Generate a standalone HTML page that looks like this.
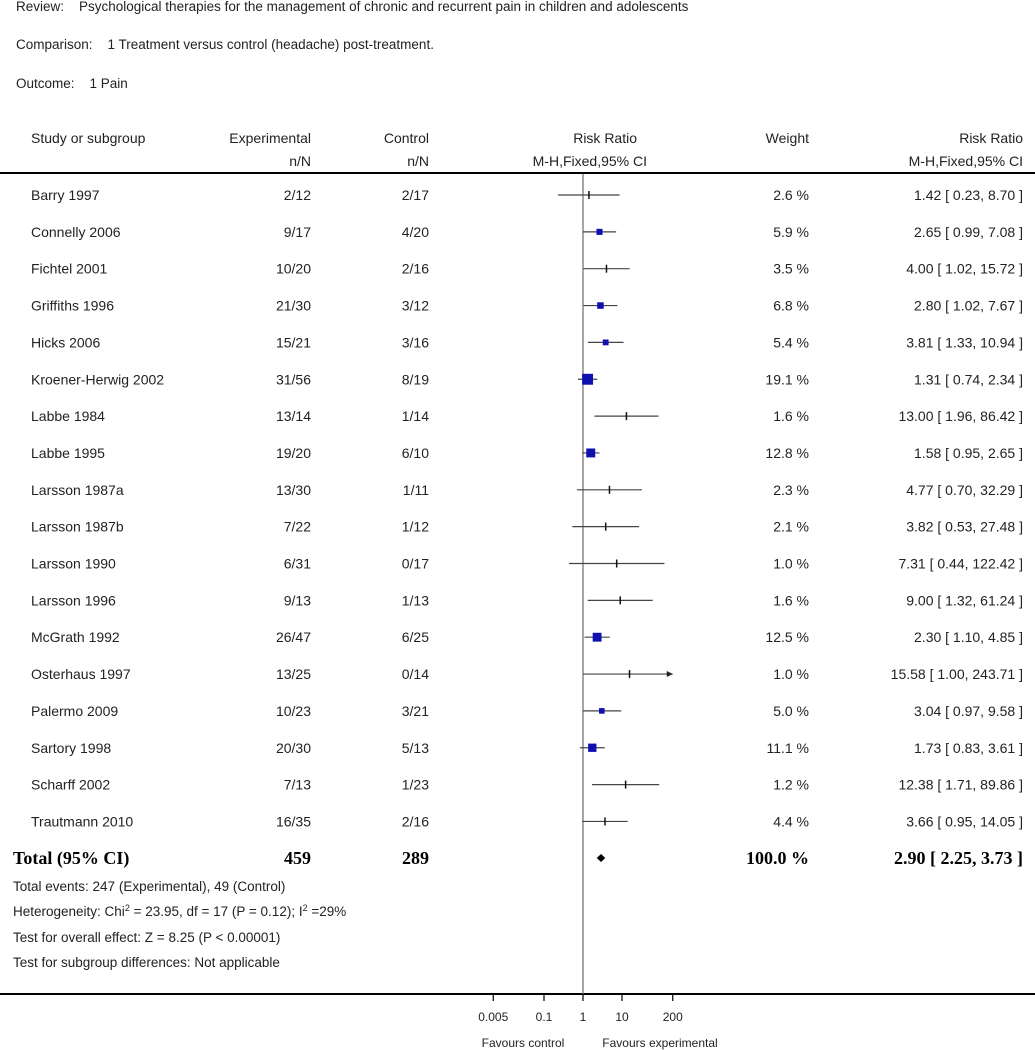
<!DOCTYPE html>
<html><head><meta charset="utf-8"><style>
html,body{margin:0;padding:0;background:#fff;}
svg{display:block;font-family:"Liberation Sans",sans-serif;}
text{white-space:pre;}
</style></head><body>
<svg id="c" width="1035" height="1050" xmlns="http://www.w3.org/2000/svg">
<g font-size="13.5" fill="#222">
<text x="16" y="11">Review:    Psychological therapies for the management of chronic and recurrent pain in children and adolescents</text>
<text x="16" y="49">Comparison:    1 Treatment versus control (headache) post-treatment.</text>
<text x="16" y="88">Outcome:    1 Pain</text>
</g>
<g font-size="14" fill="#222">
<text x="31" y="143">Study or subgroup</text>
<text x="311" y="143" text-anchor="end">Experimental</text>
<text x="311" y="166" text-anchor="end">n/N</text>
<text x="429" y="143" text-anchor="end">Control</text>
<text x="429" y="166" text-anchor="end">n/N</text>
<text x="637" y="143" text-anchor="end">Risk Ratio</text>
<text x="647" y="166" text-anchor="end">M-H,Fixed,95% CI</text>
<text x="809" y="143" text-anchor="end">Weight</text>
<text x="1023" y="143" text-anchor="end">Risk Ratio</text>
<text x="1023" y="166" text-anchor="end">M-H,Fixed,95% CI</text>
</g>
<line x1="0" y1="173" x2="1035" y2="173" stroke="#000" stroke-width="2"/>
<line x1="0" y1="994" x2="1035" y2="994" stroke="#000" stroke-width="2"/>
<g id="rows"></g>
<g id="marks"></g>
<g id="axis"></g>
<g font-size="13.5" fill="#222">
<text x="13" y="891">Total events: 247 (Experimental), 49 (Control)</text>
<text x="13" y="916">Heterogeneity: Chi<tspan dy="-5" font-size="9">2</tspan><tspan dy="5"> = 23.95, df = 17 (P = 0.12); I</tspan><tspan dy="-5" font-size="9">2</tspan><tspan dy="5"> =29%</tspan></text>
<text x="13" y="942">Test for overall effect: Z = 8.25 (P &lt; 0.00001)</text>
<text x="13" y="967">Test for subgroup differences: Not applicable</text>
</g>
<g font-family="Liberation Serif" font-weight="bold" font-size="18" fill="#000">
<text x="13" y="864">Total (95% CI)</text>
<text x="311" y="864" text-anchor="end">459</text>
<text x="429" y="864" text-anchor="end">289</text>
<text x="809" y="864" text-anchor="end">100.0 %</text>
<text x="1023" y="864" text-anchor="end">2.90 [ 2.25, 3.73 ]</text>
</g>
<g font-size="12" fill="#222">
<text x="523" y="1047" text-anchor="middle">Favours control</text>
<text x="660" y="1047" text-anchor="middle">Favours experimental</text>
</g>
</svg>
<script>
const studies=["Barry 1997","Connelly 2006","Fichtel 2001","Griffiths 1996","Hicks 2006","Kroener-Herwig 2002","Labbe 1984","Labbe 1995","Larsson 1987a","Larsson 1987b","Larsson 1990","Larsson 1996","McGrath 1992","Osterhaus 1997","Palermo 2009","Sartory 1998","Scharff 2002","Trautmann 2010"];
const expN=["2/12","9/17","10/20","21/30","15/21","31/56","13/14","19/20","13/30","7/22","6/31","9/13","26/47","13/25","10/23","20/30","7/13","16/35"];
const ctrlN=["2/17","4/20","2/16","3/12","3/16","8/19","1/14","6/10","1/11","1/12","0/17","1/13","6/25","0/14","3/21","5/13","1/23","2/16"];
const weights=[2.6,5.9,3.5,6.8,5.4,19.1,1.6,12.8,2.3,2.1,1.0,1.6,12.5,1.0,5.0,11.1,1.2,4.4];
const rr=[1.42,2.65,4.00,2.80,3.81,1.31,13.00,1.58,4.77,3.82,7.31,9.00,2.30,15.58,3.04,1.73,12.38,3.66];
const lo=[0.23,0.99,1.02,1.02,1.33,0.74,1.96,0.95,0.70,0.53,0.44,1.32,1.10,1.00,0.97,0.83,1.71,0.95];
const hi=[8.70,7.08,15.72,7.67,10.94,2.34,86.42,2.65,32.29,27.48,122.42,61.24,4.85,243.71,9.58,3.61,89.86,14.05];
const totalRR=2.90, totalLo=2.25, totalHi=3.73;
const ticks=[0.005,0.1,1,10,200];
const tickLabels=["0.005","0.1","1","10","200"];

const NS="http://www.w3.org/2000/svg";
const X0=583, PX=39, AXMIN=0.005, AXMAX=200;
const xs=v=>X0+Math.log10(v)*PX;
const rowY=i=>195+i*36.85;
function el(t,a,p,txt){const e=document.createElementNS(NS,t);for(const k in a)e.setAttribute(k,a[k]);if(txt!==undefined)e.textContent=txt;p.appendChild(e);return e;}
const fmt=v=>v.toFixed(2);
const rows=document.getElementById('rows'),marks=document.getElementById('marks'),axis=document.getElementById('axis');
el('line',{x1:X0,y1:174,x2:X0,y2:994,stroke:'#777','stroke-width':1.3},marks);
studies.forEach((s,i)=>{
  const y=rowY(i);
  const g=el('g',{'font-size':14,fill:'#222'},rows);
  
  
  let t=el('text',{x:31,y:y+5},g,s);
  
  t=el('text',{x:311,y:y+5,'text-anchor':'end'},g,expN[i]);
  
  t=el('text',{x:429,y:y+5,'text-anchor':'end'},g,ctrlN[i]);
  
  t=el('text',{x:809,y:y+5,'text-anchor':'end'},g,weights[i].toFixed(1)+" %");
  
  t=el('text',{x:1023,y:y+5,'text-anchor':'end'},g,fmt(rr[i])+" [ "+fmt(lo[i])+", "+fmt(hi[i])+" ]");
  
  const l=Math.max(lo[i],AXMIN),h=Math.min(hi[i],AXMAX);
  const ci=el('line',{x1:xs(l),y1:y,x2:xs(h),y2:y,stroke:'#444','stroke-width':1.2},marks);
  
  
  if(hi[i]>AXMAX){
    const a=el('path',{d:`M${xs(h)},${y} l-6,-3 l0,6 z`,fill:'#222'},marks);
    
  }
  const cx=xs(rr[i]);
  if(weights[i]<4.5){
    const tk=el('line',{x1:cx,y1:y-4,x2:cx,y2:y+4,stroke:'#111','stroke-width':1.5},marks);
    
  } else {
    const side=2.5*Math.sqrt(weights[i]);
    const r=el('rect',{x:cx-side/2,y:y-side/2,width:side,height:side,fill:'#1010b0'},marks);
    
    
  }
});
const ty=858, tl=xs(totalLo), tr=xs(totalHi), tc=xs(totalRR);
const d=el('path',{d:`M${tl},${ty} L${tc},${ty-4} L${tr},${ty} L${tc},${ty+4} Z`,fill:'#000'},marks);


ticks.forEach((v,i)=>{
  const x=xs(v);
  const tk=el('line',{x1:x,y1:994,x2:x,y2:1001,stroke:'#000','stroke-width':1.2},axis);
  
  const lb=el('text',{x:x,y:1021,'text-anchor':'middle','font-size':12,fill:'#222'},axis,tickLabels[i]);
  
  
});
</script>
</body></html>
